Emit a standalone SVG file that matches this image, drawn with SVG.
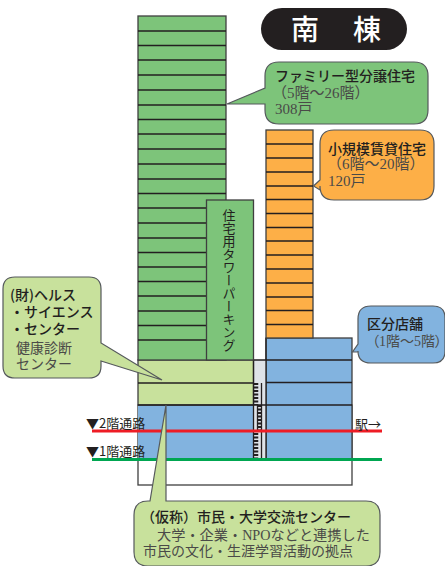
<svg xmlns="http://www.w3.org/2000/svg" width="445" height="566" viewBox="0 0 445 566">
<style>
text{font-family:"Liberation Serif","Noto Sans CJK JP",sans-serif;font-size:15px;fill:#4a4a48}
.b{font-family:"Noto Sans CJK JP",sans-serif;font-size:14px;font-weight:500;fill:#231f20}
.s{font-family:"Noto Sans CJK JP",sans-serif;font-size:14px}
.box{stroke:#3f3f3f;stroke-width:1.3}
.call{stroke:#55595c;stroke-width:1.2}
.l{stroke:#231f20;stroke-width:1.3;fill:none}
.g{fill:#7dc47a}.o{fill:#fdaf47}.bl{fill:#82b3df}.lg{fill:#c8e19c}
.st{stroke:#231f20;stroke-dasharray:2 1.5;fill:none}
</style>
<g id="podium">
<rect x="138" y="405" width="214" height="80" fill="#fff" class="box"/>
<rect x="138" y="405" width="115.500" height="54" class="bl"/>
<rect x="266" y="338" width="86" height="121" class="bl box"/>
<rect x="253.500" y="360" width="12.500" height="99" fill="#dfe3e8"/>
<rect x="138" y="360" width="115.500" height="45" class="lg box"/>
<path class="l" d="M138 383H253.500M138 405H352M253.500 360H352M266 382.500H352M253.500 360V459M266 338V459"/>
</g>
<g id="stairs">
<path class="st" style="stroke-width:4.500" d="M256 383V405M259.500 405V431M256 433V459"/>
<path class="l" d="M261.500 383V459M257.500 405V431"/>
</g>
<g id="family-tower">
<rect x="138" y="16" width="88" height="344" class="g box"/>
<path class="l" d="M138 31H226M138 45.500H226M138 60H226M138 75H226M138 90H226M138 105H226M138 119.500H226M138 134H226M138 149H226M138 164H226M138 179H226M138 193.500H226M138 208H226M138 223H226M138 238H226M138 252.500H226M138 267H226M138 281.500H226M138 296H226M138 311H226M138 325.500H226M138 340H226"/>
</g>
<g id="parking">
<rect x="206.500" y="200" width="47" height="160" class="g box"/>
<text x="229" y="209" class="s" style="writing-mode:vertical-rl;font-size:13px;fill:#231f20" dominant-baseline="central">住宅用タワーパーキング</text>
</g>
<g id="small-tower">
<rect x="266" y="130" width="47" height="208" class="o box"/>
<path class="l" d="M266 144H313M266 158H313M266 172H313M266 186H313M266 199.500H313M266 213.500H313M266 227.500H313M266 241H313M266 255H313M266 269H313M266 283H313M266 297H313M266 310.500H313M266 324.500H313"/>
</g>
<g id="connectors">
<path d="M92 431H382" stroke="#ee1c25" stroke-width="3" fill="none"/>
<path d="M92 459.500H382" stroke="#00a651" stroke-width="3" fill="none"/>
</g>
<g id="title">
<rect x="261" y="8" width="146" height="42" rx="21" fill="#231f20"/>
<text x="291" y="40" class="s" style="font-size:28px;font-weight:500;fill:#fff">南</text>
<text x="353" y="40" class="s" style="font-size:28px;font-weight:500;fill:#fff">棟</text>
</g>
<g id="family-label">
<path class="g call" d="M279 62H414Q428 62 428 76V110Q428 124 414 124H279Q265 124 265 110V104L227 104L265 88V76Q265 62 279 62Z"/>
<text x="275" y="81" class="b">ファミリー型分譲住宅</text>
<text x="272" y="98">（5階～26階）</text>
<text x="275" y="114">308戸</text>
</g>
<g id="small-label">
<path class="o call" d="M334 130H420Q434 130 434 144V186Q434 200 420 200H334Q320 200 320 186V190L313.500 186L320 180V144Q320 130 334 130Z"/>
<text x="328" y="154" class="b">小規模賃貸住宅</text>
<text x="327" y="169">（6階～20階）</text>
<text x="328" y="186">120戸</text>
</g>
<g id="shop-label">
<path class="bl call" d="M371 306H433Q445 306 445 318V351Q445 363 433 363H371Q358 363 358 351V352L352.500 352L358 344V319Q358 306 371 306Z"/>
<text x="367" y="329" class="b">区分店舗</text>
<text x="372" y="346" style="font-size:14px;font-feature-settings:'palt'">（1階～5階）</text>
</g>
<g id="health-label">
<path class="lg call" d="M15 277H89Q101 277 101 289V343L162 380L101 361V366Q101 378 89 378H15Q3 378 3 366V289Q3 277 15 277Z"/>
<text x="10" y="300" class="b">(財)ヘルス</text>
<text x="10" y="317" class="b">・サイエンス</text>
<text x="10" y="334" class="b">・センター</text>
<text x="16" y="353" class="s">健康診断</text>
<text x="16" y="369" class="s">センター</text>
</g>
<g id="route-labels">
<text x="86" y="428" class="s" style="fill:#231f20;font-size:13px">▼2階通路</text>
<text x="86" y="456" class="s" style="fill:#231f20;font-size:13px">▼1階通路</text>
<text x="355" y="429" class="s" style="fill:#231f20;font-size:13px">駅→</text>
</g>
<g id="center-label">
<path class="lg call" d="M150 501L166 405V501H366Q380 501 380 515V552Q380 566 366 566H148Q134 566 134 552V515Q134 501 148 501Z"/>
<text x="141" y="522" class="b">（仮称）市民・大学交流センター</text>
<text x="157" y="540" style="font-size:14.200px">大学・企業・NPOなどと連携した</text>
<text x="143" y="556" style="font-size:14px">市民の文化・生涯学習活動の拠点</text>
</g>
</svg>
